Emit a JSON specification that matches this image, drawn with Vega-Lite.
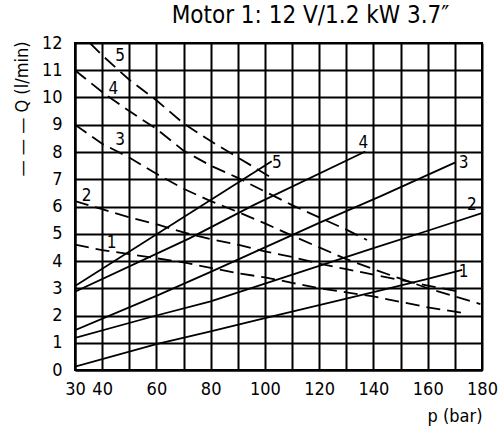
{
  "$schema": "https://vega.github.io/schema/vega-lite/v6.json",
  "autosize": {"type": "none"},
  "width": 407,
  "height": 327,
  "padding": {"left": 75, "top": 43, "right": 16, "bottom": 60},
  "background": "white",
  "title": {
    "text": "Motor 1: 12 V/1.2 kW 3.7″",
    "font": "DejaVu Sans Condensed",
    "fontSize": 24,
    "fontWeight": "normal",
    "color": "black",
    "anchor": "middle",
    "dx": 32,
    "offset": 6
  },
  "datasets": {
    "curves": [
      {"series": "1", "kind": "solid", "p": 30, "Q": 0.12},
      {"series": "1", "kind": "solid", "p": 60, "Q": 0.95},
      {"series": "1", "kind": "solid", "p": 80, "Q": 1.42},
      {"series": "1", "kind": "solid", "p": 100, "Q": 1.9},
      {"series": "1", "kind": "solid", "p": 120, "Q": 2.38},
      {"series": "1", "kind": "solid", "p": 140, "Q": 2.86},
      {"series": "1", "kind": "solid", "p": 160, "Q": 3.34},
      {"series": "1", "kind": "solid", "p": 172.7, "Q": 3.67},
      {"series": "2", "kind": "solid", "p": 30, "Q": 1.18},
      {"series": "2", "kind": "solid", "p": 60, "Q": 2.0},
      {"series": "2", "kind": "solid", "p": 80, "Q": 2.52},
      {"series": "2", "kind": "solid", "p": 100, "Q": 3.17},
      {"series": "2", "kind": "solid", "p": 120, "Q": 3.82},
      {"series": "2", "kind": "solid", "p": 140, "Q": 4.47},
      {"series": "2", "kind": "solid", "p": 160, "Q": 5.11},
      {"series": "2", "kind": "solid", "p": 180, "Q": 5.76},
      {"series": "3", "kind": "solid", "p": 30, "Q": 1.46},
      {"series": "3", "kind": "solid", "p": 60, "Q": 2.72},
      {"series": "3", "kind": "solid", "p": 80, "Q": 3.6},
      {"series": "3", "kind": "solid", "p": 100, "Q": 4.5},
      {"series": "3", "kind": "solid", "p": 120, "Q": 5.4},
      {"series": "3", "kind": "solid", "p": 142.5, "Q": 6.37},
      {"series": "3", "kind": "solid", "p": 170.2, "Q": 7.62},
      {"series": "4", "kind": "solid", "p": 30, "Q": 2.87},
      {"series": "4", "kind": "solid", "p": 72, "Q": 4.82},
      {"series": "4", "kind": "solid", "p": 96, "Q": 6.06},
      {"series": "4", "kind": "solid", "p": 137, "Q": 8.02},
      {"series": "5", "kind": "solid", "p": 30, "Q": 3.08},
      {"series": "5", "kind": "solid", "p": 102.5, "Q": 7.66},
      {"series": "1", "kind": "dashed", "p": 30, "Q": 4.6},
      {"series": "1", "kind": "dashed", "p": 40, "Q": 4.4},
      {"series": "1", "kind": "dashed", "p": 50, "Q": 4.25},
      {"series": "1", "kind": "dashed", "p": 60, "Q": 4.1},
      {"series": "1", "kind": "dashed", "p": 70, "Q": 3.95},
      {"series": "1", "kind": "dashed", "p": 80, "Q": 3.75},
      {"series": "1", "kind": "dashed", "p": 90, "Q": 3.55},
      {"series": "1", "kind": "dashed", "p": 100, "Q": 3.4},
      {"series": "1", "kind": "dashed", "p": 110, "Q": 3.2},
      {"series": "1", "kind": "dashed", "p": 120, "Q": 3.0},
      {"series": "1", "kind": "dashed", "p": 130, "Q": 2.85},
      {"series": "1", "kind": "dashed", "p": 140, "Q": 2.7},
      {"series": "1", "kind": "dashed", "p": 150, "Q": 2.5},
      {"series": "1", "kind": "dashed", "p": 160, "Q": 2.3},
      {"series": "1", "kind": "dashed", "p": 172.6, "Q": 2.1},
      {"series": "2", "kind": "dashed", "p": 30, "Q": 6.2},
      {"series": "2", "kind": "dashed", "p": 40, "Q": 5.9},
      {"series": "2", "kind": "dashed", "p": 50, "Q": 5.6},
      {"series": "2", "kind": "dashed", "p": 60, "Q": 5.35},
      {"series": "2", "kind": "dashed", "p": 70, "Q": 5.05},
      {"series": "2", "kind": "dashed", "p": 80, "Q": 4.8},
      {"series": "2", "kind": "dashed", "p": 90, "Q": 4.6},
      {"series": "2", "kind": "dashed", "p": 100, "Q": 4.35},
      {"series": "2", "kind": "dashed", "p": 110, "Q": 4.15},
      {"series": "2", "kind": "dashed", "p": 120, "Q": 3.9},
      {"series": "2", "kind": "dashed", "p": 130, "Q": 3.7},
      {"series": "2", "kind": "dashed", "p": 140, "Q": 3.5},
      {"series": "2", "kind": "dashed", "p": 150, "Q": 3.3},
      {"series": "2", "kind": "dashed", "p": 160, "Q": 3.1},
      {"series": "2", "kind": "dashed", "p": 172, "Q": 2.87},
      {"series": "3", "kind": "dashed", "p": 30, "Q": 9.0},
      {"series": "3", "kind": "dashed", "p": 40, "Q": 8.3},
      {"series": "3", "kind": "dashed", "p": 50, "Q": 7.8},
      {"series": "3", "kind": "dashed", "p": 60, "Q": 7.2},
      {"series": "3", "kind": "dashed", "p": 70, "Q": 6.65},
      {"series": "3", "kind": "dashed", "p": 80, "Q": 6.2},
      {"series": "3", "kind": "dashed", "p": 90, "Q": 5.8},
      {"series": "3", "kind": "dashed", "p": 100, "Q": 5.38},
      {"series": "3", "kind": "dashed", "p": 110, "Q": 4.93},
      {"series": "3", "kind": "dashed", "p": 120, "Q": 4.5},
      {"series": "3", "kind": "dashed", "p": 130, "Q": 4.07},
      {"series": "3", "kind": "dashed", "p": 140, "Q": 3.7},
      {"series": "3", "kind": "dashed", "p": 150, "Q": 3.35},
      {"series": "3", "kind": "dashed", "p": 160, "Q": 3.0},
      {"series": "3", "kind": "dashed", "p": 170, "Q": 2.7},
      {"series": "3", "kind": "dashed", "p": 179.4, "Q": 2.42},
      {"series": "4", "kind": "dashed", "p": 30, "Q": 11.0},
      {"series": "4", "kind": "dashed", "p": 40, "Q": 10.2},
      {"series": "4", "kind": "dashed", "p": 50, "Q": 9.5},
      {"series": "4", "kind": "dashed", "p": 60, "Q": 8.85},
      {"series": "4", "kind": "dashed", "p": 70, "Q": 8.05},
      {"series": "4", "kind": "dashed", "p": 80, "Q": 7.5},
      {"series": "4", "kind": "dashed", "p": 90, "Q": 7.05},
      {"series": "4", "kind": "dashed", "p": 100, "Q": 6.55},
      {"series": "4", "kind": "dashed", "p": 110, "Q": 6.05},
      {"series": "4", "kind": "dashed", "p": 120, "Q": 5.6},
      {"series": "4", "kind": "dashed", "p": 130, "Q": 5.15},
      {"series": "4", "kind": "dashed", "p": 137.6, "Q": 4.77},
      {"series": "5", "kind": "dashed", "p": 35.5, "Q": 12.0},
      {"series": "5", "kind": "dashed", "p": 40, "Q": 11.55},
      {"series": "5", "kind": "dashed", "p": 50, "Q": 10.65},
      {"series": "5", "kind": "dashed", "p": 60, "Q": 9.9},
      {"series": "5", "kind": "dashed", "p": 70, "Q": 9.05},
      {"series": "5", "kind": "dashed", "p": 80, "Q": 8.4},
      {"series": "5", "kind": "dashed", "p": 90, "Q": 7.8},
      {"series": "5", "kind": "dashed", "p": 102.5, "Q": 7.05}
    ],
    "labels": [
      {"label": "5", "p": 46.6, "Q": 11.52},
      {"label": "4", "p": 44.1, "Q": 10.32},
      {"label": "3", "p": 46.6, "Q": 8.45},
      {"label": "2", "p": 34.3, "Q": 6.37},
      {"label": "1", "p": 43.5, "Q": 4.65},
      {"label": "5", "p": 104.4, "Q": 7.6},
      {"label": "4", "p": 136.3, "Q": 8.33},
      {"label": "3", "p": 173.2, "Q": 7.6},
      {"label": "2", "p": 176.3, "Q": 6.06},
      {"label": "1", "p": 173.2, "Q": 3.61}
    ]
  },
  "layer": [
    {
      "data": {"name": "curves"},
      "transform": [{"filter": "datum.kind == 'solid'"}],
      "mark": {"type": "line", "color": "black", "strokeWidth": 1.8, "clip": true},
      "encoding": {
        "x": {
          "field": "p", "type": "quantitative",
          "scale": {"domain": [30, 180], "nice": false, "zero": false},
          "axis": {
            "values": [30, 40, 50, 60, 70, 80, 90, 100, 110, 120, 130, 140, 150, 160, 170, 180],
            "tickCount": 40,
            "format": "d",
            "labelExpr": "(datum.value % 20 == 0 || datum.value == 30) ? datum.label : ''",
            "title": "p  (bar)",
            "titleAnchor": "end",
            "titleAlign": "right",
            "titleBaseline": "middle",
            "titleX": 407,
            "titleY": 46
          }
        },
        "y": {
          "field": "Q", "type": "quantitative",
          "scale": {"domain": [0, 12], "nice": false},
          "axis": {
            "values": [0, 1, 2, 3, 4, 5, 6, 7, 8, 9, 10, 11, 12],
            "tickCount": 40,
            "format": "d",
            "title": "— — —  Q (l/min)",
            "titleAngle": -90,
            "titleAlign": "right",
            "titleBaseline": "middle",
            "titleX": -53,
            "titleY": -2
          }
        },
        "detail": {"field": "series"},
        "order": {"field": "p", "type": "quantitative"}
      }
    },
    {
      "data": {"name": "curves"},
      "transform": [{"filter": "datum.kind == 'dashed'"}],
      "mark": {"type": "line", "color": "black", "strokeWidth": 1.8, "strokeDash": [14, 7], "clip": true},
      "encoding": {
        "x": {"field": "p", "type": "quantitative"},
        "y": {"field": "Q", "type": "quantitative"},
        "detail": {"field": "series"},
        "order": {"field": "p", "type": "quantitative"}
      }
    },
    {
      "data": {"name": "labels"},
      "mark": {"type": "text", "font": "DejaVu Sans Condensed", "fontSize": 17, "color": "black", "align": "center", "baseline": "middle"},
      "encoding": {
        "x": {"field": "p", "type": "quantitative"},
        "y": {"field": "Q", "type": "quantitative"},
        "text": {"field": "label"}
      }
    }
  ],
  "config": {
    "view": {"stroke": "black", "strokeWidth": 2},
    "axis": {
      "grid": true,
      "gridColor": "black",
      "gridOpacity": 1,
      "gridWidth": 2,
      "domain": true,
      "domainColor": "black",
      "domainWidth": 2,
      "ticks": false,
      "labelFont": "DejaVu Sans Condensed",
      "labelFontSize": 18,
      "labelColor": "black",
      "titleFont": "DejaVu Sans Condensed",
      "titleFontSize": 18,
      "titleFontWeight": "normal",
      "titleColor": "black"
    },
    "axisX": {"labelPadding": 10, "labelOverlap": false, "labelFlush": false},
    "axisY": {"labelPadding": 13, "labelOverlap": false}
  }
}
